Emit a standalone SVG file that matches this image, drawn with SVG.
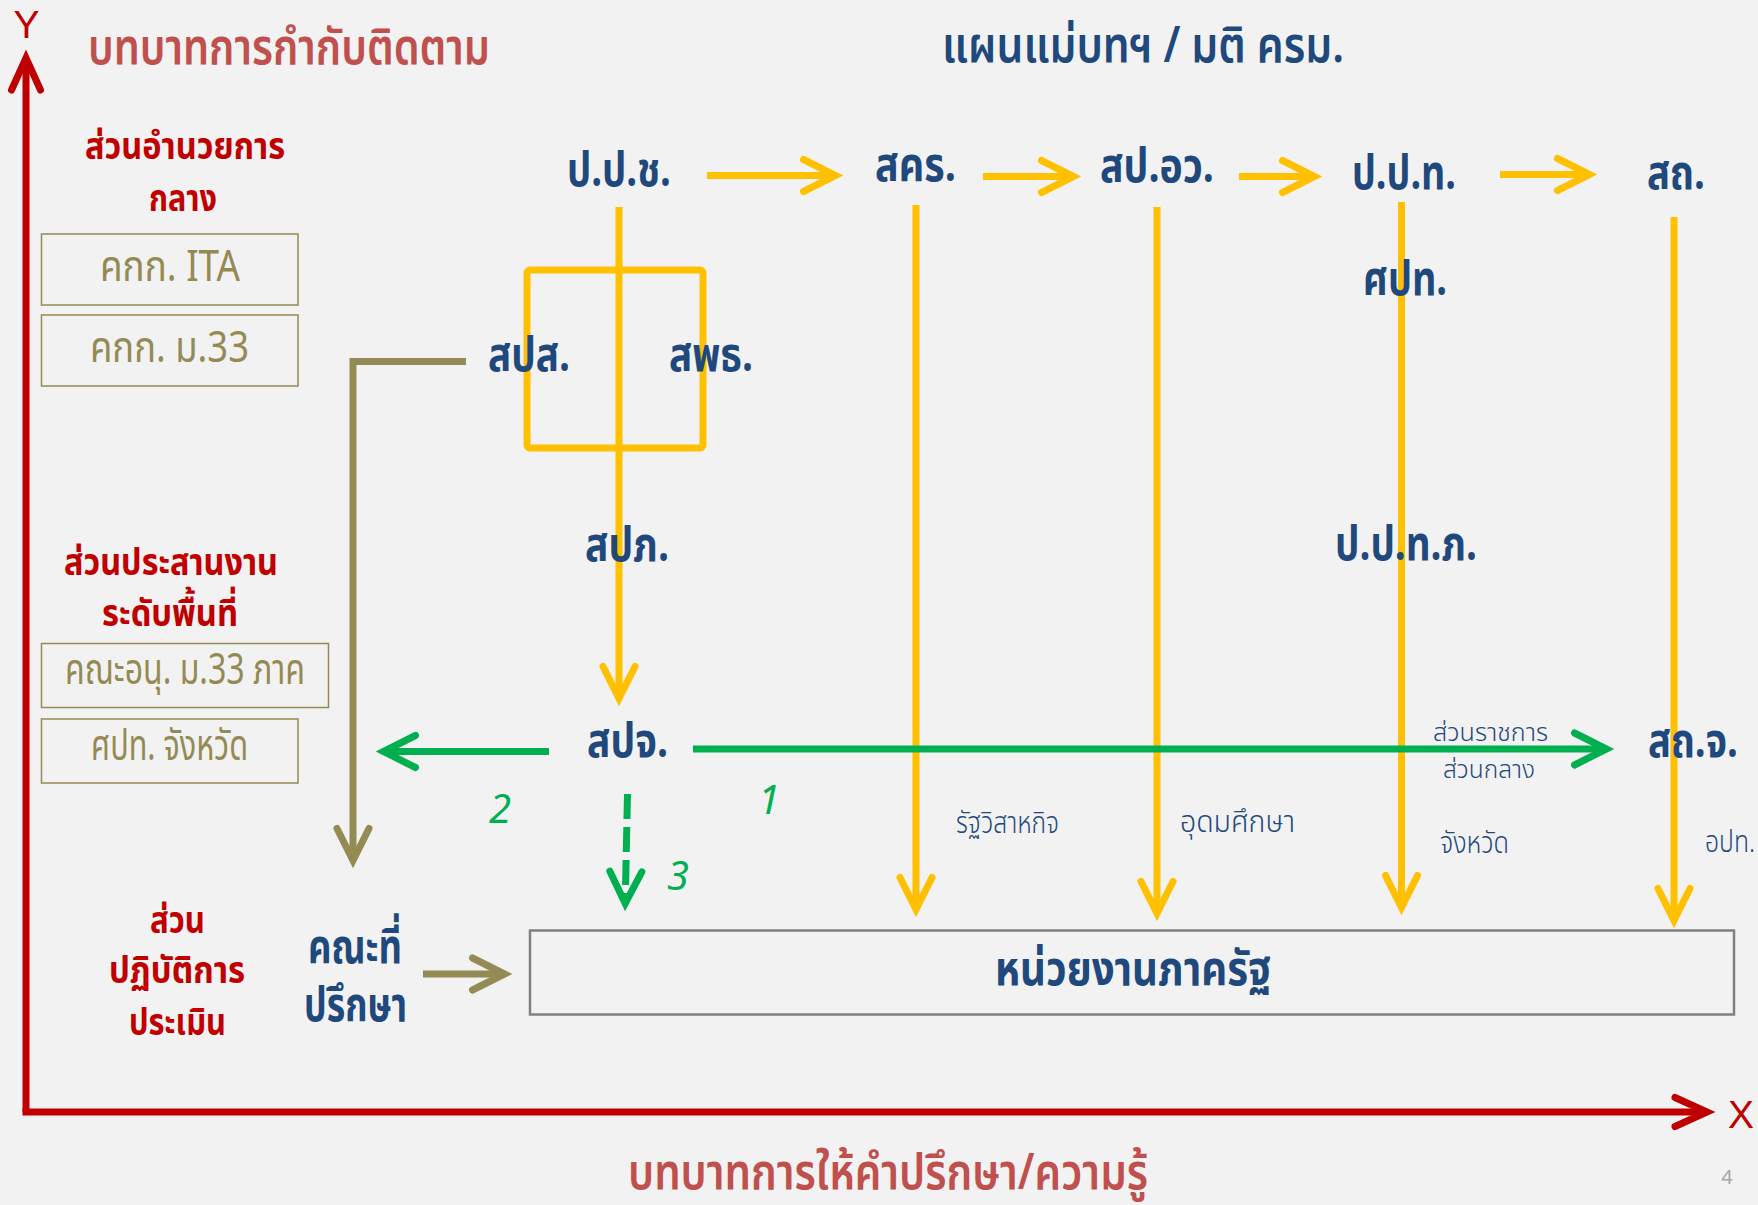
<svg xmlns="http://www.w3.org/2000/svg" width="1758" height="1205" viewBox="0 0 1758 1205">
<style>
text{font-family:'Noto Sans Thai','Noto Sans Thai UI','Noto Sans',sans-serif}
.title{fill:#C0504D;font-size:50px;font-weight:600}
.plan{fill:#1F497D;font-size:50px;font-weight:600}
.role{fill:#C00000;font-size:38px;font-weight:700}
.boxt{fill:#948A54;font-size:43px;font-weight:400}
.box{fill:none;stroke:#948A54;stroke-width:1.5}
.node{fill:#1F497D;font-size:48px;font-weight:700}
.small{fill:#1F497D;font-size:30px;font-weight:300}
.tiny{fill:#1F497D;font-size:25px;font-weight:300}
.num{fill:#00B050;font-size:40px;font-style:italic;font-family:'Noto Sans',sans-serif}
.axl{fill:#C00000;font-size:39px;font-weight:400;font-family:'Liberation Sans',sans-serif}
.y{fill:none;stroke:#FFC000;stroke-width:7}
.o{fill:none;stroke:#948A54;stroke-width:7}
.g{fill:none;stroke:#00B050;stroke-width:7}
.r{fill:none;stroke:#C00000;stroke-width:7}
</style>
<defs>
<marker id="hY" markerUnits="userSpaceOnUse" viewBox="-45 -25 55 50" refX="0" refY="0" markerWidth="55" markerHeight="50" orient="auto" overflow="visible"><path d="M-32,-16 L0,0 L-32,16" fill="none" stroke="#FFC000" stroke-width="7" stroke-linecap="round" stroke-linejoin="miter"/></marker>
<marker id="hO" markerUnits="userSpaceOnUse" viewBox="-45 -25 55 50" refX="0" refY="0" markerWidth="55" markerHeight="50" orient="auto" overflow="visible"><path d="M-32,-16 L0,0 L-32,16" fill="none" stroke="#948A54" stroke-width="7" stroke-linecap="round" stroke-linejoin="miter"/></marker>
<marker id="hG" markerUnits="userSpaceOnUse" viewBox="-45 -25 55 50" refX="0" refY="0" markerWidth="55" markerHeight="50" orient="auto" overflow="visible"><path d="M-32,-16 L0,0 L-32,16" fill="none" stroke="#00B050" stroke-width="7" stroke-linecap="round" stroke-linejoin="miter"/></marker>
<marker id="hR" markerUnits="userSpaceOnUse" viewBox="-45 -25 55 50" refX="0" refY="0" markerWidth="55" markerHeight="50" orient="auto" overflow="visible"><path d="M-32,-14.5 L0,0 L-32,14.5" fill="none" stroke="#C00000" stroke-width="7" stroke-linecap="round" stroke-linejoin="miter"/></marker>
</defs>
<rect x="0" y="0" width="1758" height="1205" fill="#F2F2F2"/>

<g id="axes">
<path class="r" d="M26,1112 V58" marker-end="url(#hR)"/>
<path class="r" d="M22.5,1112 H1707" marker-end="url(#hR)"/>
<text class="axl" x="26.5" y="38" text-anchor="middle">Y</text>
<text class="axl" x="1741" y="1128" text-anchor="middle">X</text>
</g>

<g id="titles">
<text class="title" x="88" y="64" textLength="402" lengthAdjust="spacingAndGlyphs">บทบาทการกำกับติดตาม</text>
<text class="plan" x="942" y="62" textLength="402" lengthAdjust="spacingAndGlyphs">แผนแม่บทฯ / มติ ครม.</text>
<text class="title" x="628" y="1189" textLength="520" lengthAdjust="spacingAndGlyphs">บทบาทการให้คำปรึกษา/ความรู้</text>
<text x="1727" y="1184" fill="#A6A6A6" font-size="20" text-anchor="middle">4</text>
</g>

<g id="role-central">
<text class="role"><tspan x="85" y="159" textLength="200" lengthAdjust="spacingAndGlyphs">ส่วนอำนวยการ</tspan><tspan x="149" y="211" textLength="68" lengthAdjust="spacingAndGlyphs">กลาง</tspan></text>
</g>
<g id="box-ita">
<rect class="box" x="41.5" y="234" width="256.5" height="71"/>
<text class="boxt" x="100" y="281" textLength="140" lengthAdjust="spacingAndGlyphs">คกก. ITA</text>
</g>
<g id="box-m33">
<rect class="box" x="41.5" y="315" width="256.5" height="71"/>
<text class="boxt" x="90" y="362" textLength="159" lengthAdjust="spacingAndGlyphs">คกก. ม.33</text>
</g>
<g id="role-area">
<text class="role"><tspan x="64" y="575" textLength="214" lengthAdjust="spacingAndGlyphs">ส่วนประสานงาน</tspan><tspan x="102" y="626" textLength="136" lengthAdjust="spacingAndGlyphs">ระดับพื้นที่</tspan></text>
</g>
<g id="box-sub33">
<rect class="box" x="41.5" y="643.5" width="287" height="64"/>
<text class="boxt" x="65" y="684" textLength="240" lengthAdjust="spacingAndGlyphs">คณะอนุ. ม.33 ภาค</text>
</g>
<g id="box-spt">
<rect class="box" x="41.5" y="719" width="256.5" height="64"/>
<text class="boxt" x="91" y="760" textLength="157" lengthAdjust="spacingAndGlyphs">ศปท. จังหวัด</text>
</g>
<g id="role-op">
<text class="role"><tspan x="150" y="933" textLength="55" lengthAdjust="spacingAndGlyphs">ส่วน</tspan><tspan x="109" y="983" textLength="136" lengthAdjust="spacingAndGlyphs">ปฏิบัติการ</tspan><tspan x="129" y="1035" textLength="97" lengthAdjust="spacingAndGlyphs">ประเมิน</tspan></text>
</g>

<g id="connectors">
<rect x="527" y="270" width="176" height="178" rx="3" class="y"/>
<path class="y" d="M707,175.5 H835.5" marker-end="url(#hY)"/>
<path class="y" d="M983,176.5 H1073.5" marker-end="url(#hY)"/>
<path class="y" d="M1239,176.5 H1314.5" marker-end="url(#hY)"/>
<path class="y" d="M1500,174.5 H1589.5" marker-end="url(#hY)"/>
<path class="y" d="M619,207 V698.5" marker-end="url(#hY)"/>
<path class="y" d="M916,205 V909.5" marker-end="url(#hY)"/>
<path class="y" d="M1157,207 V913.5" marker-end="url(#hY)"/>
<path class="y" d="M1401.5,202 V907.5" marker-end="url(#hY)"/>
<path class="y" d="M1674,217 V920.5" marker-end="url(#hY)"/>
<path class="o" d="M466,361.5 H353 V860.5" marker-end="url(#hO)"/>
<path class="o" d="M423,974 H504.5" marker-end="url(#hO)"/>
<path class="g" d="M549,751.5 H383.5" marker-end="url(#hG)"/>
<path class="g" d="M693,749 H1606.5" marker-end="url(#hG)"/>
<path class="g" d="M627.5,794 L625.2,903.5" stroke-dasharray="25 8" marker-end="url(#hG)"/>
</g>

<g id="n-ppch"><text class="node" x="567" y="186" textLength="104" lengthAdjust="spacingAndGlyphs">ป.ป.ช.</text></g>
<g id="n-skr"><text class="node" x="875" y="181" textLength="81" lengthAdjust="spacingAndGlyphs">สคร.</text></g>
<g id="n-spow"><text class="node" x="1100" y="182" textLength="114" lengthAdjust="spacingAndGlyphs">สป.อว.</text></g>
<g id="n-ppt"><text class="node" x="1352" y="189" textLength="104" lengthAdjust="spacingAndGlyphs">ป.ป.ท.</text></g>
<g id="n-sth"><text class="node" x="1647" y="189" textLength="58" lengthAdjust="spacingAndGlyphs">สถ.</text></g>
<g id="n-spt"><text class="node" x="1363" y="295" textLength="84" lengthAdjust="spacingAndGlyphs">ศปท.</text></g>
<g id="n-sps"><text class="node" x="488" y="371" textLength="82" lengthAdjust="spacingAndGlyphs">สปส.</text></g>
<g id="n-spt2"><text class="node" x="669" y="371" textLength="84" lengthAdjust="spacingAndGlyphs">สพธ.</text></g>
<g id="n-spp"><text class="node" x="585" y="561" textLength="84" lengthAdjust="spacingAndGlyphs">สปภ.</text></g>
<g id="n-pptp"><text class="node" x="1335" y="560" textLength="142" lengthAdjust="spacingAndGlyphs">ป.ป.ท.ภ.</text></g>
<g id="n-spj"><text class="node" x="587" y="757" textLength="81" lengthAdjust="spacingAndGlyphs">สปจ.</text></g>
<g id="n-sthj"><text class="node" x="1648" y="757" textLength="90" lengthAdjust="spacingAndGlyphs">สถ.จ.</text></g>
<g id="n-advisor">
<text class="node"><tspan x="308" y="963" textLength="94" lengthAdjust="spacingAndGlyphs">คณะที่</tspan><tspan x="304" y="1021" textLength="103" lengthAdjust="spacingAndGlyphs">ปรึกษา</tspan></text>
</g>
<g id="n-gov">
<rect x="530" y="930.5" width="1204" height="84" fill="none" stroke="#808080" stroke-width="2.5"/>
<text class="node" x="995" y="985" textLength="276" lengthAdjust="spacingAndGlyphs">หน่วยงานภาครัฐ</text>
</g>

<g id="labels">
<text class="small" x="956" y="833" textLength="103" lengthAdjust="spacingAndGlyphs">รัฐวิสาหกิจ</text>
<text class="small" x="1180" y="832" textLength="115" lengthAdjust="spacingAndGlyphs">อุดมศึกษา</text>
<text class="small" x="1440" y="853" textLength="69" lengthAdjust="spacingAndGlyphs">จังหวัด</text>
<text class="small" x="1705" y="852" textLength="50" lengthAdjust="spacingAndGlyphs">อปท.</text>
<text class="tiny"><tspan x="1433" y="741" textLength="115" lengthAdjust="spacingAndGlyphs">ส่วนราชการ</tspan><tspan x="1443" y="778" textLength="92" lengthAdjust="spacingAndGlyphs">ส่วนกลาง</tspan></text>
<text class="num" x="769" y="814" text-anchor="middle">1</text>
<text class="num" x="500" y="823" text-anchor="middle">2</text>
<text class="num" x="678" y="890" text-anchor="middle">3</text>
</g>
</svg>
